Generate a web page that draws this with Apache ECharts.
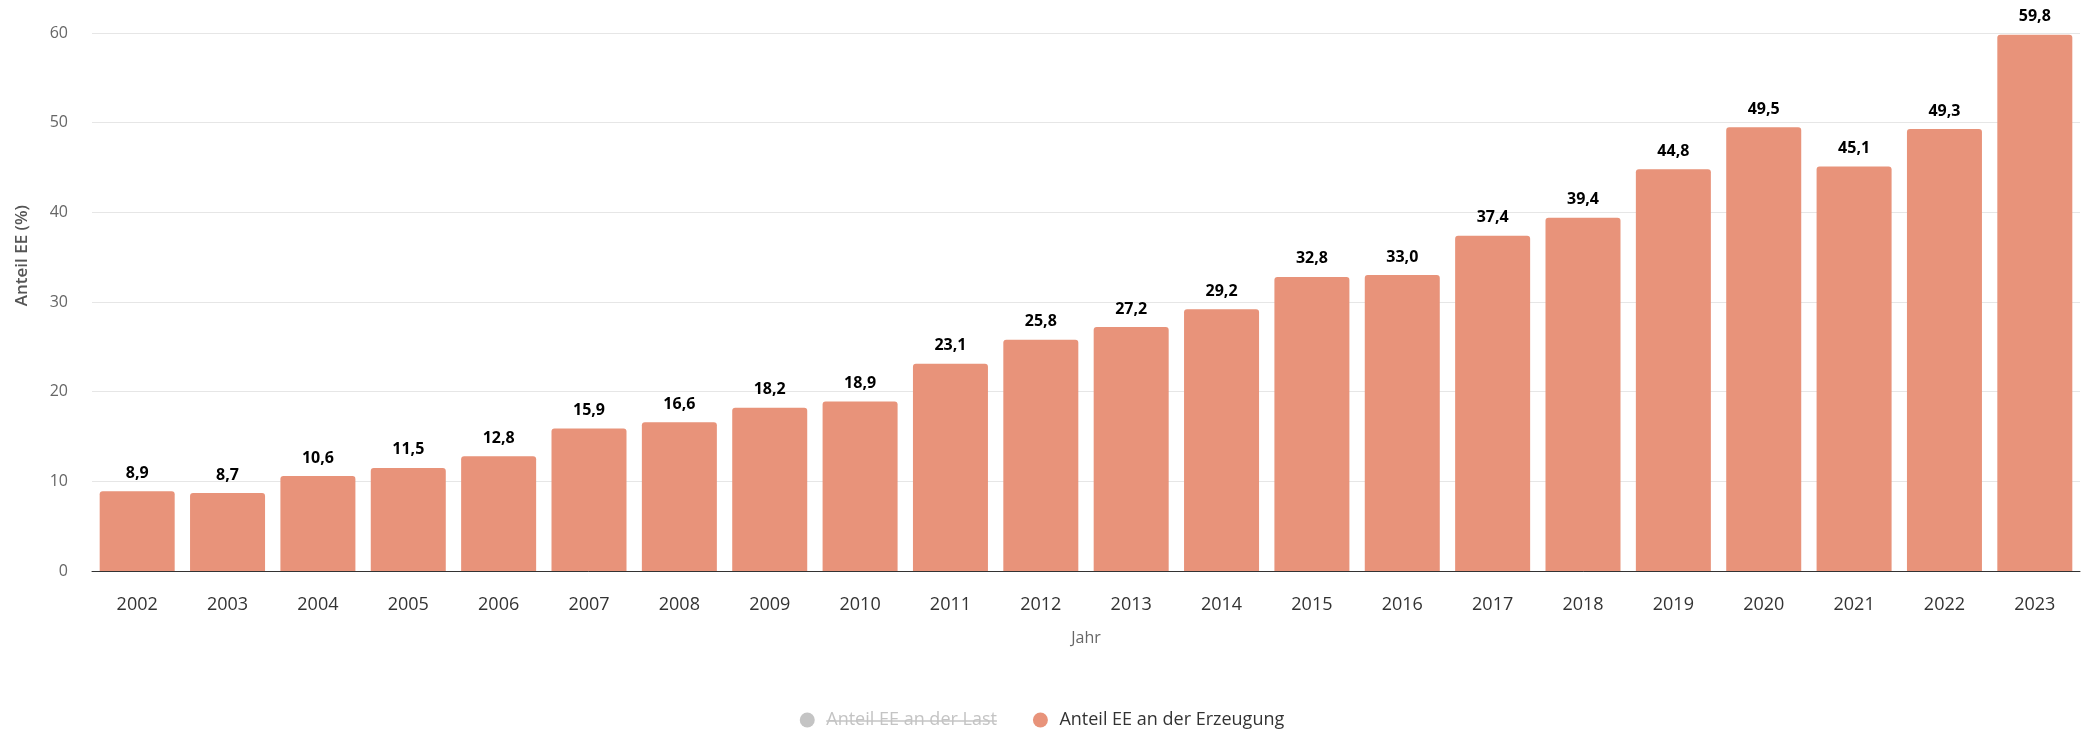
<!DOCTYPE html>
<html>
<head>
<meta charset="utf-8">
<script src="https://cdn.jsdelivr.net/npm/echarts@6/dist/echarts.min.js"></script>
<style>
html,body{margin:0;padding:0;background:#fff;}
#chart{width:2084px;height:729px;}
</style>
</head>
<body>
<div id="chart"></div>
<script>
const years = ['2002','2003','2004','2005','2006','2007','2008','2009','2010','2011','2012','2013','2014','2015','2016','2017','2018','2019','2020','2021','2022','2023'];
const anteilErzeugung = [8.9, 8.7, 10.6, 11.5, 12.8, 15.9, 16.6, 18.2, 18.9, 23.1, 25.8, 27.2, 29.2, 32.8, 33.0, 37.4, 39.4, 44.8, 49.5, 45.1, 49.3, 59.8];
const anteilLast = [];
const seriesNames = ['Anteil EE an der Last', 'Anteil EE an der Erzeugung'];
const yTicks = { min: 0, max: 60, interval: 10 };

const FONT = '"Open Sans", "Noto Sans", sans-serif';
const W = 2084;
const LEG = { top: 706, itemW: 28, itemH: 15, gap: 36, fontSize: 18, pad: 5 };

// measure legend texts to place a strike-through over the hidden series' label
const ctx = document.createElement('canvas').getContext('2d');
ctx.font = LEG.fontSize + 'px ' + FONT;
const w1 = ctx.measureText(seriesNames[0]).width;
const w2 = ctx.measureText(seriesNames[1]).width;
const contentW = (LEG.itemW + 5 + w1) + LEG.gap + (LEG.itemW + 5 + w2);
const startX = (W - contentW) / 2;
const strikeX1 = startX + LEG.itemW + 5;
const strikeY = LEG.top + LEG.pad + Math.max(LEG.itemH, LEG.fontSize) / 2 + 1;

const chart = echarts.init(document.getElementById('chart'), null, { renderer: 'canvas' });
chart.setOption({
  animation: false,
  textStyle: { fontFamily: FONT },
  grid: { left: 92, right: 4, top: 33, bottom: 158, containLabel: false },
  legend: {
    data: seriesNames,
    selected: { 'Anteil EE an der Last': false },
    left: 'center',
    top: LEG.top,
    padding: LEG.pad,
    icon: 'circle',
    itemWidth: LEG.itemW,
    itemHeight: LEG.itemH,
    itemGap: LEG.gap,
    inactiveColor: '#c4c4c4',
    textStyle: { fontFamily: FONT, fontSize: LEG.fontSize, color: '#333333' }
  },
  xAxis: {
    type: 'category',
    data: years,
    name: 'Jahr',
    nameLocation: 'middle',
    nameGap: 59,
    nameTextStyle: { fontFamily: FONT, fontSize: 16, color: '#666666' },
    axisLine: { lineStyle: { color: '#333333', width: 1 } },
    axisTick: { show: false },
    axisLabel: { fontFamily: FONT, fontSize: 18, color: '#333333', margin: 25 }
  },
  yAxis: {
    type: 'value',
    min: yTicks.min,
    max: yTicks.max,
    interval: yTicks.interval,
    axisLine: { show: false },
    axisTick: { show: false },
    splitLine: { lineStyle: { color: '#e6e6e6', width: 1 } },
    axisLabel: { fontFamily: FONT, fontSize: 16, color: '#666666', margin: 24 }
  },
  graphic: [
    {
      type: 'text',
      left: 14,
      top: 205,
      rotation: Math.PI / 2,
      style: { text: 'Anteil EE (%)', fontFamily: FONT, fontSize: 17, fontWeight: 600, fill: '#555555' }
    },
    {
      type: 'line',
      shape: { x1: strikeX1, y1: strikeY, x2: strikeX1 + w1, y2: strikeY },
      style: { stroke: '#c4c4c4', lineWidth: 1.5 },
      z: 100
    }
  ],
  series: [
    {
      name: seriesNames[0],
      type: 'bar',
      data: anteilLast,
      itemStyle: { color: '#cccccc' }
    },
    {
      name: seriesNames[1],
      type: 'bar',
      data: anteilErzeugung,
      barCategoryGap: '17%',
      itemStyle: { color: '#e8937a', borderRadius: [3, 3, 0, 0] },
      label: {
        show: true,
        position: 'top',
        distance: 10,
        fontFamily: FONT,
        fontSize: 16,
        fontWeight: 'bold',
        color: '#000000',
        formatter: p => p.value.toFixed(1).replace('.', ',')
      }
    }
  ]
});
</script>
</body>
</html>
